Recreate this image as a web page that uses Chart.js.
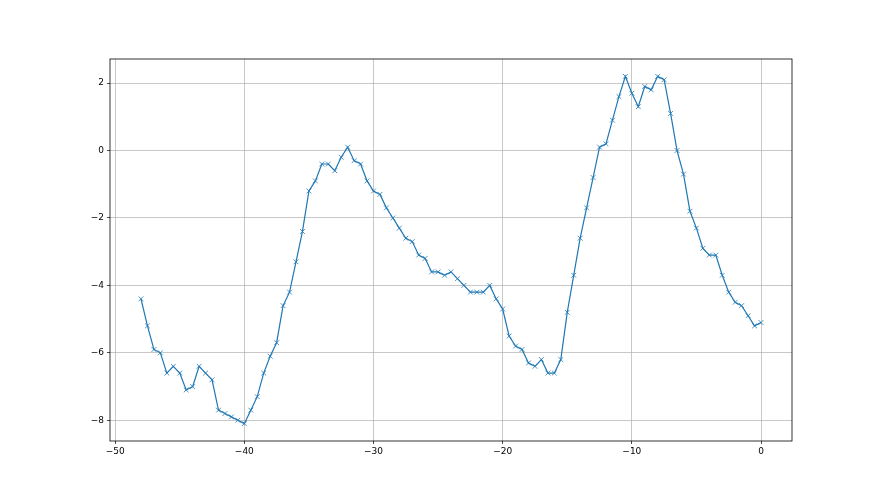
<!DOCTYPE html>
<html>
<head>
<meta charset="utf-8">
<script src="https://cdn.jsdelivr.net/npm/chart.js@4/dist/chart.umd.min.js"></script>
<style>
html,body{margin:0;padding:0;background:#fff;}
#c{display:block;}
</style>
</head>
<body>
<canvas id="c" width="880" height="495"></canvas>
<script>
const xValues = [-48,-47.5,-47,-46.5,-46,-45.5,-45,-44.5,-44,-43.5,-43,-42.5,-42,-41.5,-41,-40.5,-40,-39.5,-39,-38.5,-38,-37.5,-37,-36.5,-36,-35.5,-35,-34.5,-34,-33.5,-33,-32.5,-32,-31.5,-31,-30.5,-30,-29.5,-29,-28.5,-28,-27.5,-27,-26.5,-26,-25.5,-25,-24.5,-24,-23.5,-23,-22.5,-22,-21.5,-21,-20.5,-20,-19.5,-19,-18.5,-18,-17.5,-17,-16.5,-16,-15.5,-15,-14.5,-14,-13.5,-13,-12.5,-12,-11.5,-11,-10.5,-10,-9.5,-9,-8.5,-8,-7.5,-7,-6.5,-6,-5.5,-5,-4.5,-4,-3.5,-3,-2.5,-2,-1.5,-1,-0.5,0];
const yValues = [-4.4,-5.2,-5.9,-6.0,-6.6,-6.4,-6.6,-7.1,-7.0,-6.4,-6.6,-6.8,-7.7,-7.8,-7.9,-8.0,-8.1,-7.7,-7.3,-6.6,-6.1,-5.7,-4.6,-4.2,-3.3,-2.4,-1.2,-0.9,-0.4,-0.4,-0.6,-0.2,0.1,-0.3,-0.4,-0.9,-1.2,-1.3,-1.7,-2.0,-2.3,-2.6,-2.7,-3.1,-3.2,-3.6,-3.6,-3.7,-3.6,-3.8,-4.0,-4.2,-4.2,-4.2,-4.0,-4.4,-4.7,-5.5,-5.8,-5.9,-6.3,-6.4,-6.2,-6.6,-6.6,-6.2,-4.8,-3.7,-2.6,-1.7,-0.8,0.1,0.2,0.9,1.6,2.2,1.7,1.3,1.9,1.8,2.2,2.1,1.1,0.0,-0.7,-1.8,-2.3,-2.9,-3.1,-3.1,-3.7,-4.2,-4.5,-4.6,-4.9,-5.2,-5.1];
const xTicks = [-50,-40,-30,-20,-10,0];
const yTicks = [-8,-6,-4,-2,0,2];

const points = xValues.map((x,i)=>({x:x,y:yValues[i]}));

const frame = {
  id:'frame',
  afterDraw(chart){
    const a = chart.chartArea, ctx = chart.ctx;
    ctx.save();
    ctx.strokeStyle = '#000';
    ctx.lineWidth = 0.8;
    ctx.strokeRect(a.left, a.top, a.right-a.left, a.bottom-a.top);
    ctx.restore();
  }
};
const fmt = v => String(v).replace('-', '\u2212');

new Chart(document.getElementById('c'), {
  type:'line',
  data:{datasets:[{
    data:points,
    borderColor:'#1f77b4',
    borderWidth:1.2,
    pointStyle:'crossRot',
    pointRadius:3.4,
    pointBorderWidth:0.8,
    pointBorderColor:'#1f77b4',
    pointBackgroundColor:'#1f77b4',
    tension:0,
    fill:false
  }]},
  options:{
    responsive:false,
    animation:false,
    layout:{padding:{left:0,right:88,top:59,bottom:0}},
    plugins:{legend:{display:false},tooltip:{enabled:false}},
    scales:{
      x:{
        type:'linear', min:-50.4, max:2.4,
        afterBuildTicks(s){ s.ticks = xTicks.map(v=>({value:v})); },
        afterFit(s){ s.height = 54; },
        grid:{color:'#b0b0b0', lineWidth:0.7, tickColor:'#000', tickLength:3, drawTicks:true},
        border:{display:false},
        ticks:{color:'#000', padding:2, maxRotation:0, font:{family:'DejaVu Sans', size:9}, callback:v=>fmt(v)}
      },
      y:{
        type:'linear', min:-8.615, max:2.715,
        afterBuildTicks(s){ s.ticks = yTicks.map(v=>({value:v})); },
        afterFit(s){ s.width = 110; },
        grid:{color:'#b0b0b0', lineWidth:0.7, tickColor:'#000', tickLength:3, drawTicks:true},
        border:{display:false},
        ticks:{color:'#000', padding:3, font:{family:'DejaVu Sans', size:9}, callback:v=>fmt(v)}
      }
    }
  },
  plugins:[frame]
});
</script>
</body>
</html>
